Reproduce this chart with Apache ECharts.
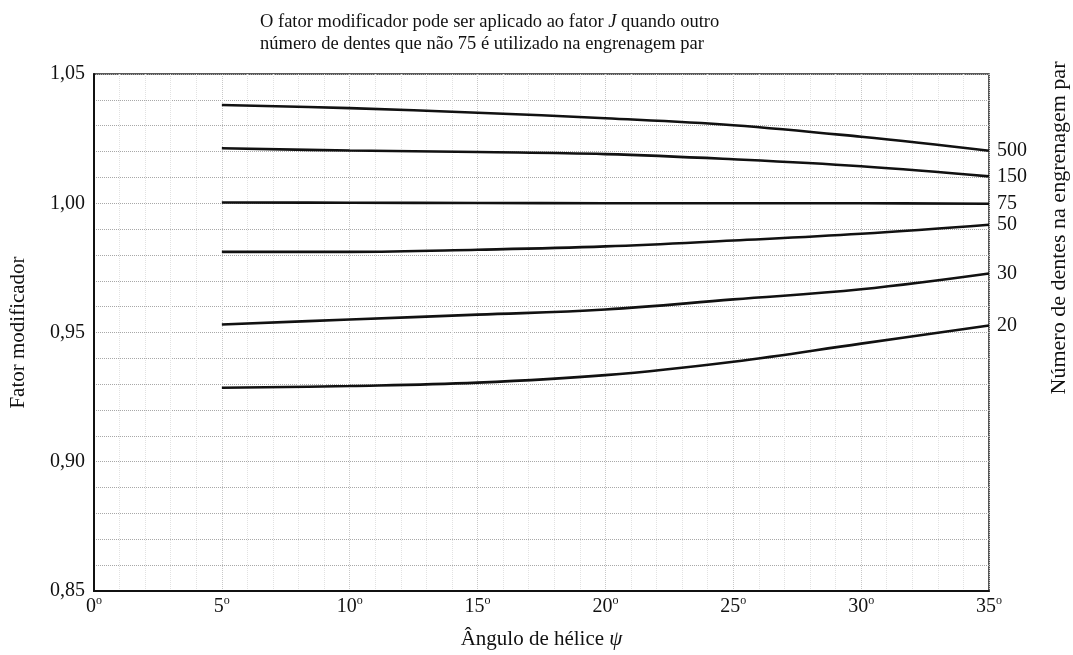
<!DOCTYPE html>
<html lang="pt">
<head>
  <meta charset="UTF-8">
  <title>Fator modificador</title>
  <style>
    html, body { margin: 0; padding: 0; overflow: hidden; background: #fff; }
    #chart { width: 1073px; height: 655px; }
  </style>
</head>
<body>
  <div id="chart"></div>
</body>
<script src="https://cdn.jsdelivr.net/npm/echarts@6/dist/echarts.min.js"></script>
<script>
  // ângulo de hélice (graus)
  var angles = [5, 10, 15, 20, 25, 30, 35];

  // número de dentes na engrenagem par
  var teeth = ['500', '150', '75', '50', '30', '20'];

  var v500 = [1.0380, 1.0368, 1.0350, 1.0329, 1.0302, 1.0257, 1.0203];
  var v150 = [1.0213, 1.0204, 1.0198, 1.0190, 1.0170, 1.0143, 1.0104];
  var v75  = [1.0003, 1.0002, 1.0001, 1.0000, 1.0000, 1.0000, 0.9998];
  var v50  = [0.9812, 0.9812, 0.9820, 0.9833, 0.9856, 0.9882, 0.9917];
  var v30  = [0.9531, 0.9550, 0.9569, 0.9589, 0.9628, 0.9667, 0.9728];
  var v20  = [0.9286, 0.9293, 0.9306, 0.9335, 0.9387, 0.9457, 0.9527];

  var curves = [v500, v150, v75, v50, v30, v20];

  var xTicks = [0, 5, 10, 15, 20, 25, 30, 35];

  var serif = 'Liberation Serif';
  var myChart = echarts.init(document.querySelector('#chart'));

  function pairs(vals) {
    return angles.map(function (a, i) { return [a, vals[i]]; });
  }

  var series = curves.map(function (vals, i) {
    return {
      name: teeth[i],
      type: 'line',
      smooth: 0.4,
      symbol: 'none',
      data: pairs(vals),
      lineStyle: { color: '#111', width: 2.6 },
      endLabel: {
        show: true,
        formatter: '{a}',
        distance: 8,
        color: '#111',
        fontFamily: serif,
        fontSize: 20
      },
      z: 5
    };
  });

  var option = {
    animation: false,
    backgroundColor: '#fff',
    title: {
      left: 255,
      top: 6,
      text: 'O fator modificador pode ser aplicado ao fator {i|J} quando outro\nnúmero de dentes que não 75 é utilizado na engrenagem par',
      textStyle: {
        fontFamily: serif,
        fontSize: 18.5,
        fontWeight: 'normal',
        color: '#111',
        lineHeight: 22,
        rich: {
          i: { fontFamily: serif, fontSize: 18.5, fontStyle: 'italic', color: '#111', lineHeight: 22 }
        }
      }
    },
    grid: {
      left: 93,
      right: 84,
      top: 74,
      bottom: 63,
      show: true,
      borderColor: '#222',
      borderWidth: 1.5
    },
    xAxis: {
      type: 'value',
      min: 0,
      max: 35,
      interval: 5,
      name: 'Ângulo de hélice {i|ψ}',
      nameLocation: 'middle',
      nameGap: 38,
      nameTextStyle: {
        fontFamily: serif,
        fontSize: 21,
        color: '#111',
        rich: { i: { fontFamily: serif, fontSize: 21, fontStyle: 'italic', color: '#111' } }
      },
      axisLine: { show: true, lineStyle: { color: '#111', width: 2 } },
      axisTick: { show: false },
      axisLabel: {
        color: '#111',
        fontFamily: serif,
        fontSize: 20,
        lineHeight: 24,
        margin: 4,
        formatter: function (v) { return xTicks.indexOf(v) >= 0 ? v + '{o|o}' : ''; },
        rich: {
          o: { fontFamily: serif, fontSize: 12, lineHeight: 10, verticalAlign: 'top', color: '#111' }
        }
      },
      splitLine: { show: true, lineStyle: { color: '#c8c8c8', type: 'dotted', width: 1 } },
      minorTick: { show: false, splitNumber: 5 },
      minorSplitLine: { show: true, lineStyle: { color: '#e2e2e2', type: 'dotted', width: 1 } }
    },
    yAxis: {
      type: 'value',
      min: 0.85,
      max: 1.05,
      interval: 0.05,
      name: 'Fator modificador',
      nameLocation: 'middle',
      nameGap: 65,
      nameTextStyle: { fontFamily: serif, fontSize: 21, color: '#111' },
      axisLine: { show: true, lineStyle: { color: '#111', width: 2 } },
      axisTick: { show: false },
      axisLabel: {
        color: '#111',
        fontFamily: serif,
        fontSize: 20,
        margin: 9,
        formatter: function (v) { return v.toFixed(2).replace('.', ','); }
      },
      splitLine: { show: true, lineStyle: { color: '#a8a8a8', type: 'dotted', width: 1 } },
      minorTick: { show: false, splitNumber: 5 },
      minorSplitLine: { show: true, lineStyle: { color: '#a8a8a8', type: 'dotted', width: 1 } }
    },
    graphic: [{
      type: 'text',
      x: 1059,
      y: 228,
      rotation: Math.PI / 2,
      style: {
        text: 'Número de dentes na engrenagem par',
        fontFamily: serif,
        fontSize: 22,
        fill: '#111',
        textAlign: 'center',
        textVerticalAlign: 'middle'
      }
    }],
    series: series
  };

  myChart.setOption(option);
</script>
</html>
